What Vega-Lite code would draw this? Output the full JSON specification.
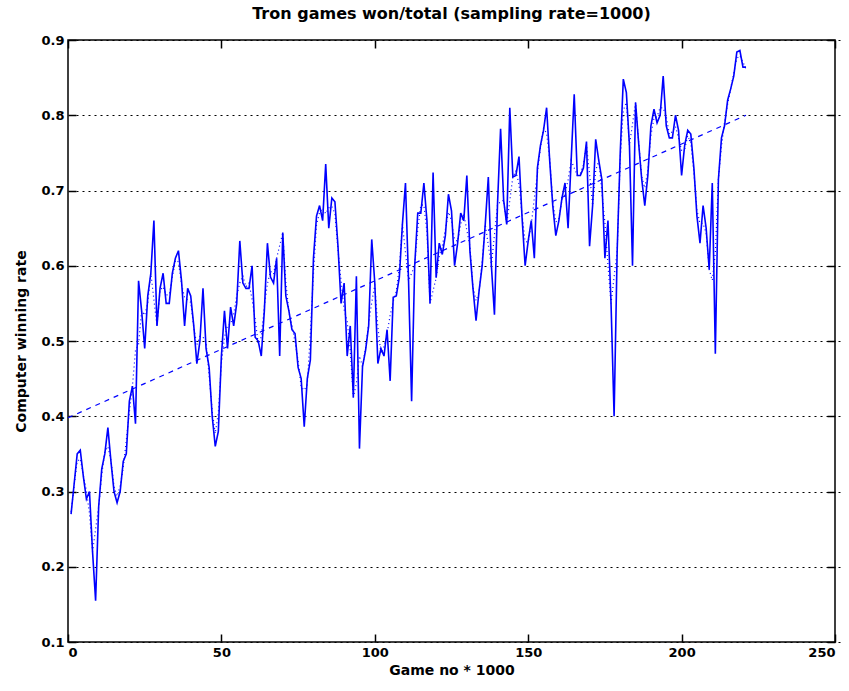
{
  "$schema": "https://vega.github.io/schema/vega-lite/v6.json",
  "width": 767,
  "height": 602,
  "autosize": "none",
  "padding": {"left": 68, "top": 40, "right": 14, "bottom": 49},
  "background": "white",
  "title": {"text": "Tron games won/total (sampling rate=1000)", "font": "DejaVu Sans", "fontWeight": "bold", "fontSize": 16, "offset": 12, "color": "black"},
  "config": {
    "view": {"stroke": "black", "strokeWidth": 1.5},
    "axis": {"labelFont": "DejaVu Sans", "labelFontWeight": "bold", "labelFontSize": 13, "labelColor": "black", "titleFont": "DejaVu Sans", "titleFontWeight": "bold", "titleFontSize": 14, "titleColor": "black", "domain": false, "tickColor": "black", "tickWidth": 1.5, "tickSize": 8, "offset": -8, "gridColor": "black", "gridOpacity": 1, "gridDash": [2, 4], "gridWidth": 1}
  },
  "datasets": {
    "games": [
      {"game": 1, "rate": 0.27}, {"game": 2, "rate": 0.31}, {"game": 3, "rate": 0.35}, {"game": 4, "rate": 0.355}, {"game": 5, "rate": 0.32},
      {"game": 6, "rate": 0.29}, {"game": 7, "rate": 0.30}, {"game": 8, "rate": 0.22}, {"game": 9, "rate": 0.155}, {"game": 10, "rate": 0.28},
      {"game": 11, "rate": 0.33}, {"game": 12, "rate": 0.35}, {"game": 13, "rate": 0.385}, {"game": 14, "rate": 0.34}, {"game": 15, "rate": 0.30},
      {"game": 16, "rate": 0.285}, {"game": 17, "rate": 0.30}, {"game": 18, "rate": 0.34}, {"game": 19, "rate": 0.35}, {"game": 20, "rate": 0.42},
      {"game": 21, "rate": 0.44}, {"game": 22, "rate": 0.39}, {"game": 23, "rate": 0.58}, {"game": 24, "rate": 0.54}, {"game": 25, "rate": 0.49},
      {"game": 26, "rate": 0.56}, {"game": 27, "rate": 0.59}, {"game": 28, "rate": 0.66}, {"game": 29, "rate": 0.52}, {"game": 30, "rate": 0.57},
      {"game": 31, "rate": 0.59}, {"game": 32, "rate": 0.55}, {"game": 33, "rate": 0.55}, {"game": 34, "rate": 0.59}, {"game": 35, "rate": 0.61},
      {"game": 36, "rate": 0.62}, {"game": 37, "rate": 0.58}, {"game": 38, "rate": 0.52}, {"game": 39, "rate": 0.57}, {"game": 40, "rate": 0.56},
      {"game": 41, "rate": 0.52}, {"game": 42, "rate": 0.47}, {"game": 43, "rate": 0.50}, {"game": 44, "rate": 0.57}, {"game": 45, "rate": 0.49},
      {"game": 46, "rate": 0.465}, {"game": 47, "rate": 0.40}, {"game": 48, "rate": 0.36}, {"game": 49, "rate": 0.38}, {"game": 50, "rate": 0.48},
      {"game": 51, "rate": 0.54}, {"game": 52, "rate": 0.49}, {"game": 53, "rate": 0.545}, {"game": 54, "rate": 0.52}, {"game": 55, "rate": 0.55},
      {"game": 56, "rate": 0.633}, {"game": 57, "rate": 0.577}, {"game": 58, "rate": 0.57}, {"game": 59, "rate": 0.57}, {"game": 60, "rate": 0.60},
      {"game": 61, "rate": 0.505}, {"game": 62, "rate": 0.50}, {"game": 63, "rate": 0.48}, {"game": 64, "rate": 0.54}, {"game": 65, "rate": 0.63},
      {"game": 66, "rate": 0.585}, {"game": 67, "rate": 0.577}, {"game": 68, "rate": 0.61}, {"game": 69, "rate": 0.48}, {"game": 70, "rate": 0.644},
      {"game": 71, "rate": 0.56}, {"game": 72, "rate": 0.54}, {"game": 73, "rate": 0.515}, {"game": 74, "rate": 0.51}, {"game": 75, "rate": 0.465},
      {"game": 76, "rate": 0.45}, {"game": 77, "rate": 0.386}, {"game": 78, "rate": 0.45}, {"game": 79, "rate": 0.475}, {"game": 80, "rate": 0.61},
      {"game": 81, "rate": 0.666}, {"game": 82, "rate": 0.68}, {"game": 83, "rate": 0.66}, {"game": 84, "rate": 0.735}, {"game": 85, "rate": 0.65},
      {"game": 86, "rate": 0.69}, {"game": 87, "rate": 0.685}, {"game": 88, "rate": 0.626}, {"game": 89, "rate": 0.55}, {"game": 90, "rate": 0.577},
      {"game": 91, "rate": 0.48}, {"game": 92, "rate": 0.52}, {"game": 93, "rate": 0.425}, {"game": 94, "rate": 0.586}, {"game": 95, "rate": 0.357},
      {"game": 96, "rate": 0.466}, {"game": 97, "rate": 0.488}, {"game": 98, "rate": 0.52}, {"game": 99, "rate": 0.635}, {"game": 100, "rate": 0.577},
      {"game": 101, "rate": 0.47}, {"game": 102, "rate": 0.49}, {"game": 103, "rate": 0.48}, {"game": 104, "rate": 0.515}, {"game": 105, "rate": 0.447},
      {"game": 106, "rate": 0.558}, {"game": 107, "rate": 0.56}, {"game": 108, "rate": 0.585}, {"game": 109, "rate": 0.655}, {"game": 110, "rate": 0.71},
      {"game": 111, "rate": 0.58}, {"game": 112, "rate": 0.42}, {"game": 113, "rate": 0.60}, {"game": 114, "rate": 0.67}, {"game": 115, "rate": 0.67},
      {"game": 116, "rate": 0.71}, {"game": 117, "rate": 0.66}, {"game": 118, "rate": 0.55}, {"game": 119, "rate": 0.724}, {"game": 120, "rate": 0.584},
      {"game": 121, "rate": 0.63}, {"game": 122, "rate": 0.615}, {"game": 123, "rate": 0.64}, {"game": 124, "rate": 0.695}, {"game": 125, "rate": 0.673},
      {"game": 126, "rate": 0.60}, {"game": 127, "rate": 0.63}, {"game": 128, "rate": 0.67}, {"game": 129, "rate": 0.66}, {"game": 130, "rate": 0.72},
      {"game": 131, "rate": 0.62}, {"game": 132, "rate": 0.57}, {"game": 133, "rate": 0.527}, {"game": 134, "rate": 0.567}, {"game": 135, "rate": 0.60},
      {"game": 136, "rate": 0.655}, {"game": 137, "rate": 0.718}, {"game": 138, "rate": 0.60}, {"game": 139, "rate": 0.535}, {"game": 140, "rate": 0.682},
      {"game": 141, "rate": 0.782}, {"game": 142, "rate": 0.687}, {"game": 143, "rate": 0.655}, {"game": 144, "rate": 0.81}, {"game": 145, "rate": 0.718},
      {"game": 146, "rate": 0.72}, {"game": 147, "rate": 0.745}, {"game": 148, "rate": 0.664}, {"game": 149, "rate": 0.60}, {"game": 150, "rate": 0.633},
      {"game": 151, "rate": 0.66}, {"game": 152, "rate": 0.61}, {"game": 153, "rate": 0.73}, {"game": 154, "rate": 0.76}, {"game": 155, "rate": 0.78},
      {"game": 156, "rate": 0.81}, {"game": 157, "rate": 0.74}, {"game": 158, "rate": 0.68}, {"game": 159, "rate": 0.64}, {"game": 160, "rate": 0.66},
      {"game": 161, "rate": 0.69}, {"game": 162, "rate": 0.71}, {"game": 163, "rate": 0.65}, {"game": 164, "rate": 0.74}, {"game": 165, "rate": 0.828},
      {"game": 166, "rate": 0.72}, {"game": 167, "rate": 0.72}, {"game": 168, "rate": 0.73}, {"game": 169, "rate": 0.765}, {"game": 170, "rate": 0.626},
      {"game": 171, "rate": 0.68}, {"game": 172, "rate": 0.768}, {"game": 173, "rate": 0.74}, {"game": 174, "rate": 0.715}, {"game": 175, "rate": 0.61},
      {"game": 176, "rate": 0.66}, {"game": 177, "rate": 0.55}, {"game": 178, "rate": 0.40}, {"game": 179, "rate": 0.62}, {"game": 180, "rate": 0.75},
      {"game": 181, "rate": 0.848}, {"game": 182, "rate": 0.83}, {"game": 183, "rate": 0.76}, {"game": 184, "rate": 0.60}, {"game": 185, "rate": 0.817},
      {"game": 186, "rate": 0.763}, {"game": 187, "rate": 0.715}, {"game": 188, "rate": 0.68}, {"game": 189, "rate": 0.72}, {"game": 190, "rate": 0.786},
      {"game": 191, "rate": 0.808}, {"game": 192, "rate": 0.79}, {"game": 193, "rate": 0.80}, {"game": 194, "rate": 0.852}, {"game": 195, "rate": 0.786},
      {"game": 196, "rate": 0.77}, {"game": 197, "rate": 0.77}, {"game": 198, "rate": 0.80}, {"game": 199, "rate": 0.78}, {"game": 200, "rate": 0.72},
      {"game": 201, "rate": 0.76}, {"game": 202, "rate": 0.78}, {"game": 203, "rate": 0.775}, {"game": 204, "rate": 0.73}, {"game": 205, "rate": 0.666},
      {"game": 206, "rate": 0.63}, {"game": 207, "rate": 0.68}, {"game": 208, "rate": 0.65}, {"game": 209, "rate": 0.595}, {"game": 210, "rate": 0.71},
      {"game": 211, "rate": 0.483}, {"game": 212, "rate": 0.715}, {"game": 213, "rate": 0.77}, {"game": 214, "rate": 0.786}, {"game": 215, "rate": 0.82},
      {"game": 216, "rate": 0.835}, {"game": 217, "rate": 0.852}, {"game": 218, "rate": 0.884}, {"game": 219, "rate": 0.886}, {"game": 220, "rate": 0.864},
      {"game": 221, "rate": 0.864}
    ],
    "trend": [
      {"game": 0, "fit": 0.398},
      {"game": 221, "fit": 0.80}
    ]
  },
  "layer": [
    {
      "data": {"name": "games"},
      "transform": [{"loess": "rate", "on": "game", "bandwidth": 0.025}],
      "mark": {"type": "line", "color": "#0000ff", "strokeWidth": 1.2, "strokeDash": [1, 3]},
      "encoding": {
        "x": {"field": "game", "type": "quantitative", "scale": {"domain": [0, 250], "nice": false}, "axis": {"orient": "bottom", "title": "Game no * 1000", "values": [0, 50, 100, 150, 200, 250], "format": "d", "grid": false, "labelPadding": 4, "titlePadding": 4}},
        "y": {"field": "rate", "type": "quantitative", "scale": {"domain": [0.1, 0.9], "nice": false, "zero": false}, "axis": {"orient": "left", "title": "Computer winning rate", "values": [0.1, 0.2, 0.3, 0.4, 0.5, 0.6, 0.7, 0.8, 0.9], "format": ".1f", "grid": true, "labelPadding": 4, "titlePadding": 12}}
      }
    },
    {
      "data": {"name": "games"},
      "mark": {"type": "line", "color": "#0000ff", "strokeWidth": 1.6},
      "encoding": {
        "x": {"field": "game", "type": "quantitative", "axis": null},
        "y": {"field": "rate", "type": "quantitative", "axis": null}
      }
    },
    {
      "data": {"name": "trend"},
      "mark": {"type": "line", "color": "#0000ff", "strokeWidth": 1.2, "strokeDash": [5, 5]},
      "encoding": {
        "x": {"field": "game", "type": "quantitative", "scale": {"domain": [0, 250], "nice": false}, "axis": {"orient": "top", "title": null, "labels": false, "values": [0, 50, 100, 150, 200, 250], "grid": false}},
        "y": {"field": "fit", "type": "quantitative", "scale": {"domain": [0.1, 0.9], "nice": false, "zero": false}, "axis": {"orient": "right", "title": null, "labels": false, "values": [0.1, 0.2, 0.3, 0.4, 0.5, 0.6, 0.7, 0.8, 0.9], "grid": false}}
      }
    }
  ],
  "resolve": {"axis": {"x": "independent", "y": "independent"}}
}
